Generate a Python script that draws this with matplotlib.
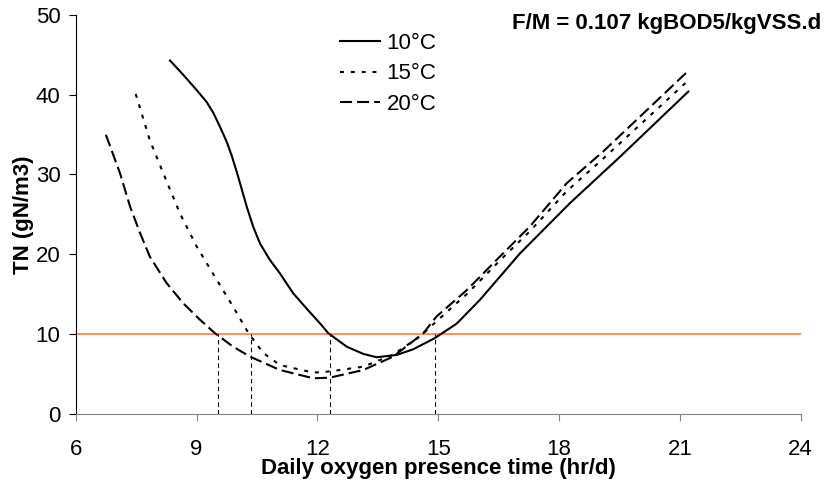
import matplotlib
matplotlib.use("Agg")
import matplotlib.pyplot as plt

plt.rcParams['font.family'] = ['Liberation Sans', 'DejaVu Sans']

# 10°C
x10 = [8.34, 8.67, 9.00, 9.25, 9.42, 9.58, 9.75, 9.87, 10.0, 10.12, 10.25, 10.41, 10.58, 10.82, 11.07,
       11.40, 11.73, 12.07, 12.27, 12.73, 13.14, 13.47, 13.97, 14.38, 14.91, 15.46, 16.04, 17.03, 18.27,
       19.51, 21.21]
y10 = [44.3, 42.5, 40.6, 39.1, 37.7, 36.0, 34.1, 32.4, 30.3, 28.2, 25.9, 23.4, 21.3, 19.3, 17.6,
       15.1, 13.2, 11.3, 10.1, 8.4, 7.5, 7.08, 7.37, 8.08, 9.46, 11.3, 14.3, 20.1, 26.4,
       32.2, 40.4]
# 15°C
x15 = [7.49, 7.84, 8.17, 8.59, 9.00, 9.50, 9.91, 10.29, 10.66, 11.07, 11.90, 12.31, 13.14, 13.88, 14.55,
       14.96, 15.71, 16.53, 17.28, 18.19, 19.10, 21.21]
y15 = [40.1, 34.3, 30.2, 25.1, 21.0, 16.8, 13.4, 10.1, 7.6, 6.1, 5.15, 5.3, 5.9, 7.4, 9.7,
       11.6, 15.0, 19.2, 22.9, 27.9, 32.0, 41.8]
# 20°C
x20 = [6.75, 7.10, 7.35, 7.60, 7.84, 8.26, 8.67, 9.09, 9.46, 9.91, 10.33, 11.07, 11.90, 12.31, 13.14,
       13.88, 14.63, 14.96, 15.71, 16.53, 17.28, 18.19, 19.10, 21.21]
y20 = [34.97, 30.16, 25.97, 22.63, 19.70, 16.36, 13.85, 11.76, 10.08, 8.4, 7.15, 5.48, 4.44, 4.52, 5.48,
       7.15, 10.09, 12.2, 15.5, 19.7, 23.5, 28.9, 32.9, 43.0]

limit_tn = 10
cross_x = [9.54, 10.35, 12.32, 14.92]

xticks = [6, 9, 12, 15, 18, 21, 24]
yticks = [0, 10, 20, 30, 40, 50]

FS = 16

fig = plt.figure(figsize=(8.25, 4.9), dpi=100)
ax = fig.add_axes([75.7 / 825, 1 - 413.7 / 490, 725 / 825, 398.7 / 490])

ax.axhline(limit_tn, color='#FF884D', lw=1.3, zorder=1)
for cx in cross_x:
    ax.plot([cx, cx], [0, limit_tn], color='black', lw=0.8, ls=(0, (4, 3)), zorder=2)

l1, = ax.plot(x10, y10, color='black', lw=1.5, label='10°C', zorder=3)
l2, = ax.plot(x15, y15, color='black', lw=1.5, ls=(0, (1.9, 3.3)), label='15°C', zorder=3)
l3, = ax.plot(x20, y20, color='black', lw=1.5, ls=(0, (5.8, 2.4)), label='20°C', zorder=3)

ax.set_xlim(6, 24)
ax.set_ylim(0, 50)
ax.set_xticks(xticks)
ax.set_yticks(yticks)
ax.tick_params(axis='both', labelsize=FS, direction='out', length=5)
ax.tick_params(axis='x', colors='#808080', labelcolor='black', pad=13)
ax.tick_params(axis='y', pad=6)
ax.spines['top'].set_visible(False)
ax.spines['right'].set_visible(False)
ax.spines['bottom'].set_color('#808080')
ax.spines['left'].set_color('black')

ax.set_xlabel('Daily oxygen presence time (hr/d)', fontsize=FS, fontweight='bold', labelpad=-1)
ax.set_ylabel('TN (gN/m3)', fontsize=FS, fontweight='bold', labelpad=1)

fig.text(821 / 825, 1 - 24 / 490, 'F/M = 0.107 kgBOD5/kgVSS.d', ha='right', va='center',
         fontsize=FS, fontweight='bold')

ax.legend(handles=[l1, l2, l3], loc='upper left', bbox_to_anchor=(340 / 825, 1 - 33 / 490),
          bbox_transform=fig.transFigure, frameon=False, fontsize=FS, borderpad=0,
          handlelength=1.8, handletextpad=0.3, labelspacing=0.42, borderaxespad=0)

fig.savefig('out.png', dpi=100)
